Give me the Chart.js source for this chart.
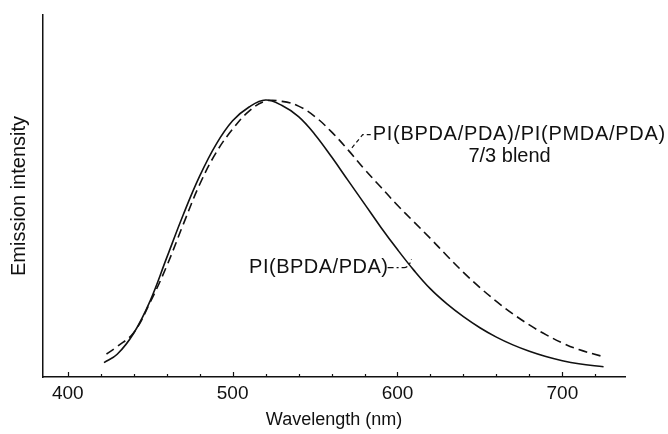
<!DOCTYPE html>
<html>
<head>
<meta charset="utf-8">
<script src="https://cdn.jsdelivr.net/npm/chart.js@4.4.1/dist/chart.umd.min.js"></script>
<style>
  html, body { margin: 0; padding: 0; background: #fff; }
  #wrap { width: 668px; height: 434px; position: relative; }
</style>
</head>
<body>
<div id="wrap"><canvas id="emission-chart"></canvas></div>
<script>
// values (wavelength in nm, intensity in arbitrary units, peak = 100)
var bpdaWavelength = [422, 430, 440, 450, 460, 470, 480, 490, 500, 510, 520, 530, 540, 550, 560, 570, 580, 590, 600, 610, 620, 630, 640, 650, 660, 670, 680, 690, 700, 710, 725];
var bpdaIntensity  = [5.2, 8.2, 15.8, 27.5, 43, 58.5, 72.5, 84, 92.5, 97.5, 100, 98, 94, 87.5, 79.5, 71, 62.5, 54, 46, 38.5, 31.8, 26.4, 21.8, 17.8, 14.4, 11.6, 9.3, 7.4, 5.9, 4.8, 3.7];

var blendWavelength = [423.5, 430, 440, 450, 460, 470, 480, 490, 500, 510, 520, 530, 540, 550, 560, 570, 580, 590, 600, 610, 620, 630, 640, 650, 660, 670, 680, 690, 700, 710, 725];
var blendIntensity  = [8.3, 11, 16, 27, 40, 55, 69.5, 81, 89.5, 96, 99.6, 99.5, 97.8, 94, 88.5, 82, 75, 68.5, 62, 56, 50, 43.8, 37.8, 32.3, 27.3, 22.8, 18.8, 15.3, 12.3, 9.9, 7.3];

var xTicks = [400, 420, 440, 460, 480, 500, 520, 540, 560, 580, 600, 620, 640, 660, 680, 700, 720];
var xLabelled = [400, 500, 600, 700];

function toPoints(xs, ys) {
  return xs.map(function (x, i) { return { x: x, y: ys[i] }; });
}

var font = 'Liberation Sans';

// inward tick marks + curve labels
var extras = {
  id: 'extras',
  afterDatasetsDraw: function (chart) {
    var ctx = chart.ctx;
    var xs = chart.scales.x, ys = chart.scales.y;
    var base = chart.chartArea.bottom;
    ctx.save();
    ctx.strokeStyle = '#111';
    ctx.lineWidth = 1.2;
    xTicks.forEach(function (t) {
      var px = Math.round(xs.getPixelForValue(t)) + 0.5;
      var len = xLabelled.indexOf(t) >= 0 ? 5 : 3;
      ctx.beginPath();
      ctx.moveTo(px, base);
      ctx.lineTo(px, base - len);
      ctx.stroke();
    });

    ctx.fillStyle = '#111';
    ctx.textBaseline = 'middle';

    // blend label
    ctx.font = '20px "' + font + '"';
    ctx.letterSpacing = '0.7px';
    ctx.textAlign = 'left';
    var lx = xs.getPixelForValue(585), ly = ys.getPixelForValue(87.5);
    ctx.fillText('PI(BPDA/PDA)/PI(PMDA/PDA)', lx, ly);
    ctx.letterSpacing = '0px';
    ctx.textAlign = 'center';
    ctx.fillText('7/3 blend', xs.getPixelForValue(668), ys.getPixelForValue(79.5));

    ctx.setLineDash([4, 3]);
    ctx.lineWidth = 1.2;
    ctx.beginPath();
    ctx.moveTo(lx - 2, ly);
    ctx.lineTo(lx - 10, ly);
    ctx.lineTo(xs.getPixelForValue(572), ys.getPixelForValue(82.5));
    ctx.stroke();

    // BPDA label
    ctx.setLineDash([]);
    ctx.letterSpacing = '0.5px';
    ctx.textAlign = 'left';
    var bx = xs.getPixelForValue(510), by = ys.getPixelForValue(39.5);
    ctx.fillText('PI(BPDA/PDA)', bx, by);
    ctx.letterSpacing = '0px';
    ctx.setLineDash([6, 3, 2, 3]);
    ctx.beginPath();
    ctx.moveTo(xs.getPixelForValue(594), by);
    ctx.lineTo(xs.getPixelForValue(604), by);
    ctx.quadraticCurveTo(xs.getPixelForValue(607), by, xs.getPixelForValue(608.5), ys.getPixelForValue(42.5));
    ctx.stroke();
    ctx.restore();
  }
};

var ctx = document.getElementById('emission-chart').getContext('2d');
var emissionChart = new Chart(ctx, {
  type: 'line',
  data: {
    datasets: [{
      label: 'PI(BPDA/PDA)',
      data: toPoints(bpdaWavelength, bpdaIntensity),
      borderColor: '#111',
      borderWidth: 1.6,
      pointRadius: 0,
      tension: 0.4,
      fill: false
    }, {
      label: 'PI(BPDA/PDA)/PI(PMDA/PDA) 7/3 blend',
      data: toPoints(blendWavelength, blendIntensity),
      borderColor: '#111',
      borderWidth: 1.6,
      borderDash: [9, 5],
      pointRadius: 0,
      tension: 0.4,
      fill: false
    }]
  },
  options: {
    responsive: true,
    maintainAspectRatio: false,
    animation: false,
    layout: { padding: { top: 15, right: 43, left: 0, bottom: 0 } },
    plugins: {
      legend: { display: false },
      tooltip: { enabled: false }
    },
    scales: {
      x: {
        type: 'linear',
        min: 385,
        max: 738,
        afterBuildTicks: function (scale) {
          scale.ticks = xTicks.map(function (v) { return { value: v }; });
        },
        afterFit: function (scale) { scale.height = 57; },
        grid: { display: false, drawTicks: false },
        border: { display: true, color: '#111', width: 1.5 },
        ticks: {
          autoSkip: false,
          maxRotation: 0,
          padding: 5,
          color: '#111',
          font: { family: font, size: 19 },
          callback: function (v) { return xLabelled.indexOf(v) >= 0 ? String(v) : ''; }
        },
        title: {
          display: true,
          text: 'Wavelength (nm)',
          color: '#111',
          font: { family: font, size: 18 },
          padding: { top: 0, bottom: 3 }
        }
      },
      y: {
        min: 0,
        max: 130.7,
        afterFit: function (scale) { scale.width = 43; },
        grid: { display: false, drawTicks: false },
        border: { display: true, color: '#111', width: 1.5 },
        ticks: { display: false },
        title: {
          display: true,
          text: 'Emission intensity',
          color: '#111',
          font: { family: font, size: 20 },
          padding: { top: 7, bottom: 0 }
        }
      }
    }
  },
  plugins: [extras]
});
</script>
</body>
</html>
